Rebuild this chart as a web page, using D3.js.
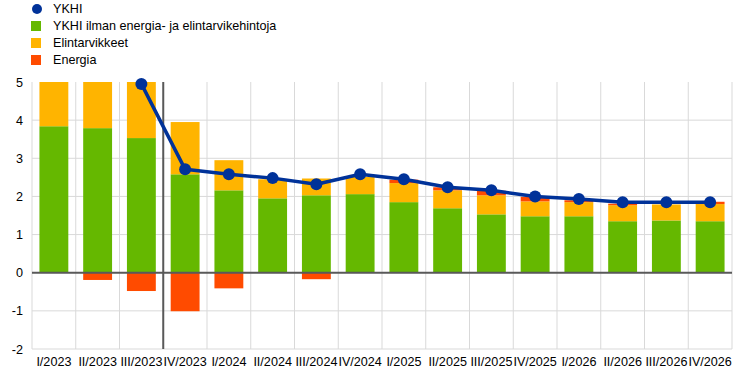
<!DOCTYPE html>
<html>
<head>
<meta charset="utf-8">
<script src="https://cdn.jsdelivr.net/npm/d3@7"></script>
<style>
  html, body { margin: 0; padding: 0; background: #fff; }
  svg { display: block; font-family: "Liberation Sans", Arial, sans-serif; }
</style>
</head>
<body>
<svg id="chart" width="745" height="390"></svg>
<script>
const categories = ["I/2023","II/2023","III/2023","IV/2023","I/2024","II/2024","III/2024","IV/2024",
  "I/2025","II/2025","III/2025","IV/2025","I/2026","II/2026","III/2026","IV/2026"];
const coreValues   = [3.84, 3.79, 3.53, 2.58, 2.16, 1.95, 2.03, 2.06, 1.85, 1.69, 1.53, 1.48, 1.48, 1.35, 1.37, 1.35];
const foodValues   = [2.40, 2.00, 1.88, 1.37, 0.79, 0.50, 0.44, 0.45, 0.50, 0.47, 0.50, 0.39, 0.37, 0.42, 0.42, 0.45];
const energyValues = [0.00, -0.19, -0.48, -1.01, -0.41, 0.00, -0.17, 0.00, 0.09, 0.08, 0.12, 0.12, 0.05, 0.04, 0.00, 0.06];
const hicpValues   = [null, null, 4.95, 2.71, 2.58, 2.48, 2.32, 2.58, 2.45, 2.24, 2.16, 2.00, 1.93, 1.85, 1.85, 1.85];
const yTicks = [-2, -1, 0, 1, 2, 3, 4, 5];
const legendLabels = ["YKHI", "YKHI ilman energia- ja elintarvikehintoja", "Elintarvikkeet", "Energia"];
const colors = { hicp: "#003299", core: "#65b800", food: "#ffb400", energy: "#ff4b00" };

const svg = d3.select("#chart");
const margin = { left: 32, right: 13, top: 82, bottom: 41 };
const W = 745, H = 390;
const FS = 12.6;

const x = d3.scaleBand().domain(categories).range([margin.left, W - margin.right]).paddingInner(0.34).paddingOuter(0.17);
const y = d3.scaleLinear().domain([-2, 5]).range([H - margin.bottom, margin.top]);

const step = x.step();
const xLeft = margin.left, xRight = W - margin.right;

// grid
const grid = svg.append("g");
grid.selectAll("line.h").data(yTicks.filter(d => d !== 0 && d !== 5)).join("line")
  .attr("x1", xLeft).attr("x2", xRight)
  .attr("y1", d => y(d)).attr("y2", d => y(d))
  .attr("stroke", "#d9d9d9").attr("stroke-width", 1);
const boundaries = d3.range(categories.length + 1).map(i => xLeft + i * step);
grid.selectAll("line.v").data(boundaries).join("line")
  .attr("x1", d => d).attr("x2", d => d)
  .attr("y1", y(5)).attr("y2", y(-2))
  .attr("stroke", "#d9d9d9").attr("stroke-width", 1);

// clip
svg.append("clipPath").attr("id", "plotclip").append("rect")
  .attr("x", xLeft).attr("y", y(5)).attr("width", xRight - xLeft).attr("height", y(-2) - y(5));

// stacked bars
const rows = categories.map((c, i) => ({ cat: c, core: coreValues[i], food: foodValues[i], energy: energyValues[i] }));
const keys = ["core", "food", "energy"];
const series = d3.stack().keys(keys).offset(d3.stackOffsetDiverging)(rows);

const barsG = svg.append("g").attr("clip-path", "url(#plotclip)");
barsG.selectAll("g").data(series).join("g")
  .attr("fill", d => colors[d.key])
  .selectAll("rect").data(d => d).join("rect")
  .attr("x", d => x(d.data.cat))
  .attr("width", x.bandwidth())
  .attr("y", d => y(Math.max(d[0], d[1])))
  .attr("height", d => Math.abs(y(d[0]) - y(d[1])));

// zero line
svg.append("line").attr("x1", xLeft).attr("x2", xRight).attr("y1", y(0)).attr("y2", y(0))
  .attr("stroke", "#595959").attr("stroke-width", 2);

// separator line between III/2023 and IV/2023
const sepX = x("IV/2023") - (step - x.bandwidth()) / 2;
svg.append("line").attr("x1", sepX).attr("x2", sepX).attr("y1", y(5)).attr("y2", y(-2))
  .attr("stroke", "#595959").attr("stroke-width", 2);

// HICP line
const pts = categories.map((c, i) => ({ cat: c, v: hicpValues[i] }));
const lineGen = d3.line().defined(d => d.v !== null).x(d => x(d.cat) + x.bandwidth() / 2).y(d => y(d.v));
const lineG = svg.append("g").attr("clip-path", "url(#plotclip)");
lineG.append("path").datum(pts).attr("d", lineGen)
  .attr("fill", "none").attr("stroke", colors.hicp).attr("stroke-width", 3.5).attr("stroke-linejoin", "round");
svg.append("g").selectAll("circle").data(pts.filter(d => d.v !== null)).join("circle")
  .attr("cx", d => x(d.cat) + x.bandwidth() / 2).attr("cy", d => y(d.v)).attr("r", 6)
  .attr("fill", colors.hicp);

// y axis labels
const yAxis = d3.axisLeft(y).tickValues(yTicks).tickSize(0).tickPadding(0).tickFormat(d => String(d));
const yg = svg.append("g").attr("transform", `translate(${xLeft - 9},0)`).call(yAxis);
yg.select(".domain").remove();
yg.selectAll("text").attr("font-size", FS).attr("fill", "#000").attr("font-family", "Liberation Sans, Arial, sans-serif");

// x axis labels
const xAxis = d3.axisBottom(x).tickSize(0).tickPadding(0);
const xg = svg.append("g").attr("transform", `translate(0,${y(-2) + 8})`).call(xAxis);
xg.select(".domain").remove();
xg.selectAll("text").attr("font-size", FS).attr("fill", "#000").attr("font-family", "Liberation Sans, Arial, sans-serif");

// legend
const legendColors = [colors.hicp, colors.core, colors.food, colors.energy];
const lg = svg.append("g");
legendLabels.forEach((t, i) => {
  const cy = 9 + i * 17;
  if (i === 0) {
    lg.append("circle").attr("cx", 37).attr("cy", cy).attr("r", 5).attr("fill", legendColors[i]);
  } else {
    lg.append("rect").attr("x", 31).attr("y", cy - 5).attr("width", 10).attr("height", 10).attr("fill", legendColors[i]);
  }
  lg.append("text").attr("x", 53).attr("y", cy).attr("dy", "0.35em").attr("font-size", FS).attr("fill", "#000").text(t);
});
</script>
</body>
</html>
